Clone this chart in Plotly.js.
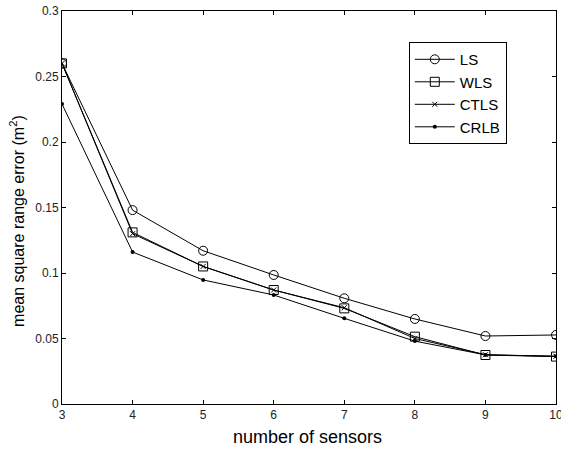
<!DOCTYPE html>
<html>
<head>
<meta charset="utf-8">
<script src="https://cdn.plot.ly/plotly-3.0.1.min.js"></script>
<style>html,body{margin:0;padding:0;background:#fff;}#chart{width:561px;height:449px;}</style>
</head>
<body>
<div id="chart"></div>
<script>
const sensors = [3, 4, 5, 6, 7, 8, 9, 10];
const lsValues   = [0.260, 0.148, 0.117, 0.0985, 0.0807, 0.0649, 0.0519, 0.0527];
const wlsValues  = [0.260, 0.131, 0.105, 0.087, 0.073, 0.0514, 0.0374, 0.0362];
const ctlsValues = [0.260, 0.130, 0.105, 0.087, 0.0735, 0.0500, 0.0376, 0.0364];
const crlbValues = [0.229, 0.116, 0.0947, 0.0832, 0.0654, 0.0480, 0.0375, 0.0365];
const seriesNames = ['LS', 'WLS', 'CTLS', 'CRLB'];
const xTicks = [3, 4, 5, 6, 7, 8, 9, 10];
const yTicks = [0, 0.05, 0.1, 0.15, 0.2, 0.25, 0.3];
const xTitle = 'number of sensors';
const yTitle = 'mean square range error (m<sup>2</sup>)';

const FONT = 'Arial, Liberation Sans, sans-serif';
const lineStyle = {color: '#000', width: 1};
const traces = [
  {x: sensors, y: lsValues, name: seriesNames[0], mode: 'lines+markers', line: lineStyle,
   marker: {symbol: 'circle-open', size: 9, color: '#000', line: {width: 1}}},
  {x: sensors, y: wlsValues, name: seriesNames[1], mode: 'lines+markers', line: lineStyle,
   marker: {symbol: 'square-open', size: 9, color: '#000', line: {width: 1}}},
  {x: sensors, y: ctlsValues, name: seriesNames[2], mode: 'lines+markers', line: lineStyle,
   marker: {symbol: 'x-thin', size: 5, color: '#000', line: {width: 1, color: '#000'}}},
  {x: sensors, y: crlbValues, name: seriesNames[3], mode: 'lines+markers', line: lineStyle,
   marker: {symbol: 'circle', size: 4, color: '#000'}}
];

const axisCommon = {
  showgrid: false, zeroline: false, showline: true, linecolor: '#000', linewidth: 1,
  mirror: 'ticks', ticks: 'inside', ticklen: 4, tickcolor: '#000',
  ticklabeloverflow: 'allow',
  tickfont: {family: FONT, size: 12, color: '#222'}
};

const layout = {
  width: 561, height: 449,
  margin: {l: 62, r: 5, t: 11, b: 45},
  paper_bgcolor: '#fff', plot_bgcolor: '#fff',
  showlegend: true,
  legend: {
    x: 0.702, y: 0.921, xanchor: 'left', yanchor: 'top',
    bordercolor: '#000', borderwidth: 1, bgcolor: '#fff',
    font: {family: FONT, size: 15, color: '#000'},
    tracegroupgap: 0, itemwidth: 40
  },
  xaxis: Object.assign({}, axisCommon, {
    range: [3, 10], tickvals: xTicks, ticktext: xTicks.map(String)
  }),
  yaxis: Object.assign({}, axisCommon, {
    range: [0, 0.3], tickvals: yTicks, ticktext: yTicks.map(String)
  }),
  annotations: [
    {text: xTitle, xref: 'paper', yref: 'paper', x: 0.497, y: -0.084,
     xanchor: 'center', yanchor: 'middle', showarrow: false,
     font: {family: FONT, size: 18, color: '#000'}},
    {text: yTitle, xref: 'paper', yref: 'paper', x: -0.091, y: 0.466,
     xanchor: 'center', yanchor: 'middle', showarrow: false, textangle: -90,
     font: {family: FONT, size: 16, color: '#000'}}
  ]
};

Plotly.newPlot('chart', traces, layout, {displayModeBar: false, staticPlot: true});
</script>
</body>
</html>
